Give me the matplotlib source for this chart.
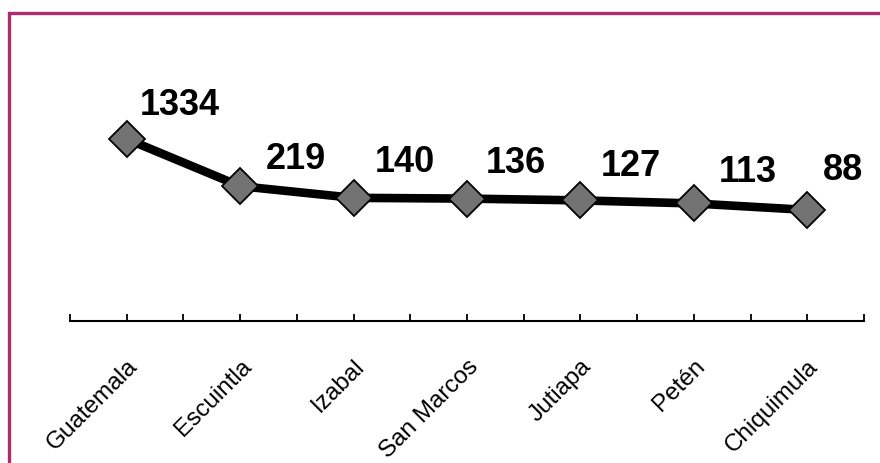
import matplotlib
matplotlib.use("Agg")
import matplotlib.pyplot as plt
from matplotlib.patches import Rectangle
import numpy as np

plt.rcParams['font.family'] = ['Liberation Sans', 'DejaVu Sans']

categories = ["Guatemala", "Escuintla", "Izabal", "San Marcos", "Jutiapa", "Petén", "Chiquimula"]
values = [1334, 219, 140, 136, 127, 113, 88]
# label offsets in points (dx, dy)
label_offsets = [(38, 25), (40, 20), (37, 26), (35, 26), (36, 25), (39, 23), (26, 29)]

W, H = 880, 464
fig = plt.figure(figsize=(W / 100, H / 100), dpi=100)
fig.patch.set_facecolor('white')

# outer border
fig.patches.append(Rectangle((8.5 / W, -0.05), 1.1, (H - 13.5) / H + 0.05, transform=fig.transFigure,
                             fill=False, edgecolor='#AC2C70', linewidth=2.4, zorder=0))

ax_left, ax_right = 70, 864
ax_bottom, ax_top = 322, 40
ax = fig.add_axes([ax_left / W, (H - ax_bottom) / H, (ax_right - ax_left) / W, (ax_bottom - ax_top) / H])
ax.set_facecolor('none')

x = np.arange(len(categories))
ax.plot(x, values, color='black', linewidth=6.2, solid_capstyle='butt', zorder=2)
ax.plot(x, values, linestyle='none', marker='D', markersize=18, markerfacecolor='#737373',
        markeredgecolor='black', markeredgewidth=1.3, zorder=3)

ax.set_yscale('log')
ppd = 60.1
ylo = 1.25
ax.set_ylim(ylo, ylo * 10 ** ((ax_bottom - ax_top) / ppd))
ax.set_xlim(-0.5, len(categories) - 0.5)

for xi, v, (dx, dy) in zip(x, values, label_offsets):
    ax.annotate(str(v), (xi, v), xytext=(dx, dy), textcoords='offset points',
                ha='center', va='center', fontsize=26, fontweight='bold', color='black')

for s in ['top', 'right', 'left']:
    ax.spines[s].set_visible(False)
ax.spines['bottom'].set_linewidth(1.5)
ax.yaxis.set_visible(False)

ax.set_xticks(x)
ax.set_xticklabels(categories, rotation=45, ha='right', rotation_mode='anchor', fontsize=17.5)
ax.set_xticks(np.arange(-0.5, len(categories), 1.0), minor=True)
ax.tick_params(axis='x', which='both', direction='in', length=5, width=1.3, pad=24)
ax.tick_params(axis='y', which='both', left=False)

fig.savefig('out.png', dpi=100, facecolor='white')
